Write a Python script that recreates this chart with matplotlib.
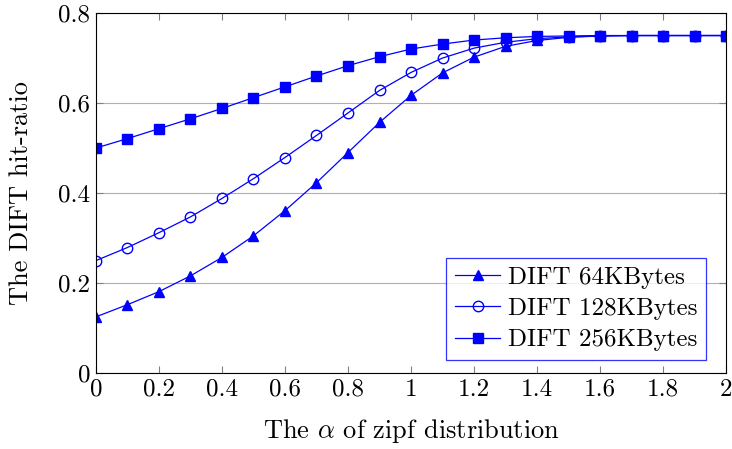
import numpy as np
import matplotlib
matplotlib.use("Agg")
import matplotlib.pyplot as plt

plt.rcParams['font.family'] = 'serif'
plt.rcParams['font.serif'] = ['cmr10']
plt.rcParams['mathtext.fontset'] = 'cm'
plt.rcParams['axes.formatter.use_mathtext'] = True

# x values: alpha of zipf distribution
alpha = [0.0, 0.1, 0.2, 0.3, 0.4, 0.5, 0.6, 0.7, 0.8, 0.9, 1.0,
         1.1, 1.2, 1.3, 1.4, 1.5, 1.6, 1.7, 1.8, 1.9, 2.0]

hit_64k = [0.125, 0.152, 0.181, 0.216, 0.257, 0.305, 0.361, 0.423, 0.490, 0.557, 0.617,
           0.667, 0.702, 0.726, 0.739, 0.746, 0.749, 0.750, 0.750, 0.750, 0.750]
hit_128k = [0.250, 0.279, 0.312, 0.347, 0.388, 0.432, 0.479, 0.528, 0.578, 0.628, 0.668,
            0.700, 0.722, 0.735, 0.743, 0.747, 0.749, 0.750, 0.750, 0.750, 0.750]
hit_256k = [0.500, 0.521, 0.543, 0.565, 0.588, 0.612, 0.636, 0.660, 0.683, 0.703, 0.720,
            0.731, 0.740, 0.745, 0.748, 0.749, 0.750, 0.750, 0.750, 0.750, 0.750]

labels = ['DIFT 64KBytes', 'DIFT 128KBytes', 'DIFT 256KBytes']
xtick_labels = ['0', '0.2', '0.4', '0.6', '0.8', '1', '1.2', '1.4', '1.6', '1.8', '2']
ytick_labels = ['0', '0.2', '0.4', '0.6', '0.8']

fig = plt.figure(figsize=(7.32, 4.49), dpi=100)
ax = fig.add_axes([0.131, 0.169, 0.861, 0.802])

blue = '#0000ff'
ax.plot(alpha, hit_64k, color=blue, lw=0.9, marker='^', ms=7, label=labels[0])
ax.plot(alpha, hit_128k, color=blue, lw=0.9, marker='o', ms=7.5, mfc='none', mew=1.0, label=labels[1])
ax.plot(alpha, hit_256k, color=blue, lw=0.9, marker='s', ms=7.5, label=labels[2])

ax.set_xlim(0, 2)
ax.set_ylim(0, 0.8)
ax.set_xticks(np.arange(0, 2.01, 0.2))
ax.set_xticklabels(xtick_labels)
ax.set_yticks([0, 0.2, 0.4, 0.6, 0.8])
ax.set_yticklabels(ytick_labels)
ax.yaxis.grid(True, color='#b0b0b0', lw=0.8)
ax.set_axisbelow(True)
ax.tick_params(direction='in', top=True, right=True, length=5, color='#808080', labelsize=18, pad=4)

ax.set_xlabel(r'The $\alpha$ of zipf distribution', fontsize=19, labelpad=12)
ax.set_ylabel('The DIFT hit-ratio', fontsize=19, labelpad=18)

leg = ax.legend(loc='lower right', fontsize=18, frameon=True, fancybox=False,
                edgecolor=blue, borderpad=0.35, labelspacing=0.35, handlelength=1.8,
                handletextpad=0.3, borderaxespad=0, bbox_to_anchor=(0.968, 0.036))
leg.get_frame().set_linewidth(0.9)

fig.savefig('out.png', dpi=100)
